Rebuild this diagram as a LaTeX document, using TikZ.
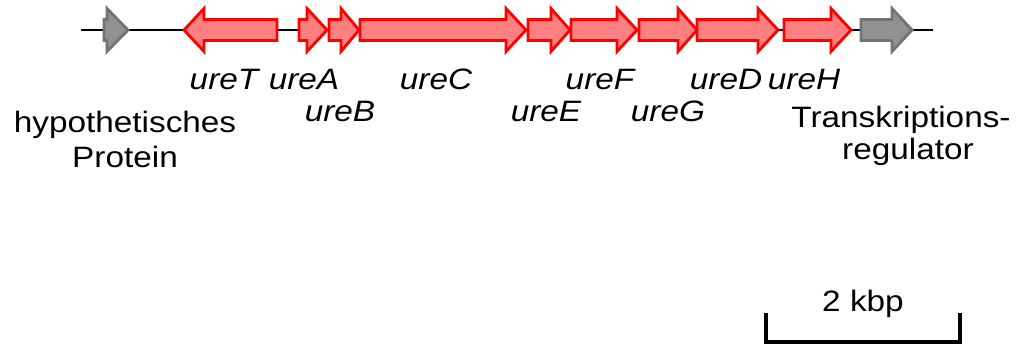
\documentclass[tikz,border=0pt]{standalone}
\usepackage{fontspec}
\setmainfont[FakeStretch=1.13]{Liberation Sans}
\begin{document}
\begin{tikzpicture}[x=1pt,y=-1pt,
  redgene/.style={draw=red,fill=red!50!white,line width=2.8pt,line join=miter},
  graygene/.style={draw=black!55,fill=black!43,line width=2.8pt,line join=miter},
  lbl/.style={anchor=base,inner sep=0pt,font=\fontsize{29.5}{35}\selectfont\itshape},
  desc/.style={anchor=base,inner sep=0pt,font=\fontsize{29.5}{35}\selectfont}]
\useasboundingbox (0,0) rectangle (1023,347);
\newcommand\genearrow[4]{%
  \path[#4] (#1,19.5) -- (#2,19.5) -- (#2,8.5) -- (#3,30) -- (#2,51.5) -- (#2,40.5) -- (#1,40.5) -- cycle;}
% backbone
\coordinate (l0) at (81,30);
\coordinate (l1) at (933,30);
\draw[line width=2.6pt] (l0) -- (l1);
% genes
\genearrow{104}{107}{128}{graygene}
\genearrow{277}{204}{184}{redgene}
\genearrow{299}{307}{327}{redgene}
\genearrow{329}{341}{359}{redgene}
\genearrow{360}{506}{526}{redgene}
\genearrow{528}{551}{570}{redgene}
\genearrow{571}{617}{637}{redgene}
\genearrow{639}{678}{697}{redgene}
\genearrow{697}{758}{778}{redgene}
\genearrow{784}{831}{851}{redgene}
\genearrow{861}{892}{912}{graygene}
% gene labels
\node[lbl] (uT) at (224,90) {ureT};
\node[lbl] (uA) at (304,90) {ureA};
\node[lbl] (uC) at (436,90) {ureC};
\node[lbl] (uF) at (600,90) {ureF};
\node[lbl] (uD) at (726,90) {ureD};
\node[lbl] (uH) at (804,90) {ureH};
\node[lbl] (uB) at (340,122) {ureB};
\node[lbl] (uE) at (546,122) {ureE};
\node[lbl] (uG) at (668,122) {ureG};
% descriptions
\node[desc] (hp1) at (125,133) {hypothetisches};
\node[desc] (hp2) at (125,168) {Protein};
\node[desc] (tr1) at (901,128) {Transkriptions-};
\node[desc] (tr2) at (908,160) {regulator};
% scale bar
\coordinate (s0) at (766,313);
\coordinate (s1) at (766,342);
\coordinate (s2) at (960,342);
\coordinate (s3) at (960,313);
\draw[line width=4.5pt] (s0) -- (s1) -- (s2) -- (s3);
\node[desc] (kb) at (863,312) {2 kbp};
\end{tikzpicture}
\end{document}
